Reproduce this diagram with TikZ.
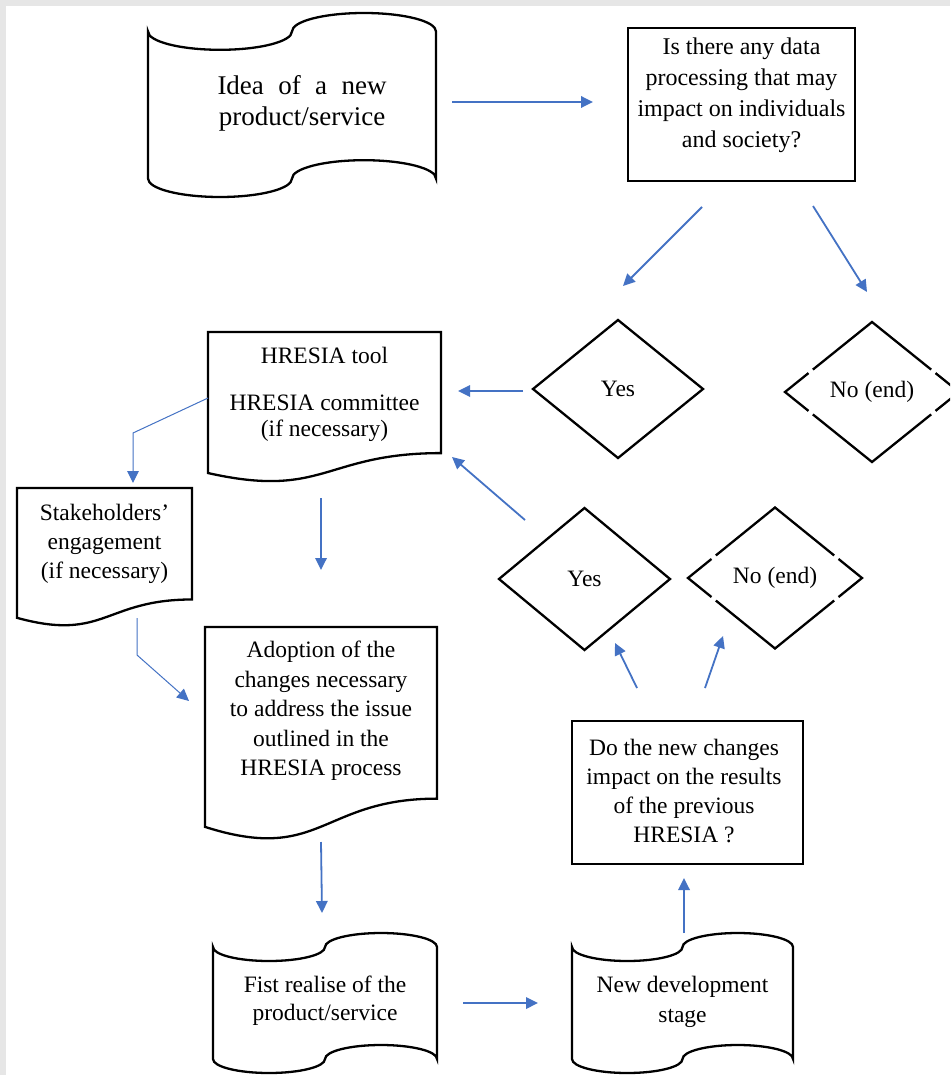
\documentclass[tikz,border=0pt]{standalone}
\usepackage{fontspec}
\setmainfont{Liberation Serif}
\usetikzlibrary{arrows.meta,calc}
\definecolor{arrblue}{RGB}{68,114,196}
\definecolor{bordergray}{RGB}{230,230,230}
\tikzset{
  shapebox/.style={inner sep=0pt, outer sep=0pt, draw=none},
  shapeline/.style={draw=black, line width=2.3pt, line join=miter},
  lbl/.style={inner sep=0pt, align=center},
  flowarrow/.style={draw=arrblue, line width=1.8pt, -{Triangle[length=12pt,width=11.5pt]}},
  thinarrow/.style={draw=arrblue, line width=1pt, -{Triangle[length=12pt,width=11.5pt]}},
}
% punched tape: name, L, T, W, H
\newcommand\tapeshape[5]{%
  \node[shapebox, minimum width=#4, minimum height=#5] (#1) at ({#2+#4/2},{#3+#5/2}) {};
  \draw[shapeline] ({#2},{#3+0.1*#5})
     arc[start angle=180, end angle=0, x radius={#4/4}, y radius={0.1*#5}]
     arc[start angle=180, end angle=360, x radius={#4/4}, y radius={0.1*#5}]
     -- ({#2+#4},{#3+0.9*#5})
     arc[start angle=0, end angle=-180, x radius={#4/4}, y radius={0.1*#5}]
     arc[start angle=0, end angle=180, x radius={#4/4}, y radius={0.1*#5}]
     -- cycle;
}
% document: name, L, T, W, H
\newcommand\docshape[5]{%
  \node[shapebox, minimum width=#4, minimum height=#5] (#1) at ({#2+#4/2},{#3+#5/2}) {};
  \draw[shapeline] ({#2},{#3}) -- ({#2+#4},{#3}) -- ({#2+#4},{#3+0.802*#5})
    .. controls ({#2+0.5*#4},{#3+0.802*#5}) and ({#2+0.5*#4},{#3+1.1075*#5}) .. ({#2},{#3+0.934*#5}) -- cycle;
}
% solid diamond outline
\newcommand\soliddiamond[1]{%
  \draw[shapeline] (#1.north) -- (#1.east) -- (#1.south) -- (#1.west) -- cycle;
}
% dashed diamond outline (gaps near the side tips)
\newcommand\gapdiamond[1]{%
  \draw[shapeline] ($(#1.west)!0.27!(#1.north)$) -- (#1.west) -- ($(#1.west)!0.27!(#1.south)$);
  \draw[shapeline] ($(#1.west)!0.32!(#1.south)$) -- (#1.south) -- ($(#1.east)!0.32!(#1.south)$);
  \draw[shapeline] ($(#1.east)!0.27!(#1.south)$) -- (#1.east) -- ($(#1.east)!0.27!(#1.north)$);
  \draw[shapeline] ($(#1.east)!0.32!(#1.north)$) -- (#1.north) -- ($(#1.west)!0.32!(#1.north)$);
}
\begin{document}
\begin{tikzpicture}[x=1pt,y=-1pt]
\clip (0,0) rectangle (950,1075);
\fill[bordergray] (0,0) rectangle (950,1075);
\fill[white] (6,6) rectangle (950,1075);

% ---- shapes ----
\tapeshape{idea}{148}{13}{288}{184}
\node[lbl, font=\fontsize{27}{30.5}\selectfont] (ideaT) at (302,103.5)
  {\makebox[169pt][s]{Idea of a new}\\product/service};

\node[shapebox, draw=black, line width=2.3pt, minimum width=227, minimum height=153] (q) at (741.5,104.5) {};
\node[lbl, font=\fontsize{24}{31}\selectfont] (qT) at (741.5,95)
  {Is there any data\\processing that may\\impact on individuals\\and society?};

\node[shapebox, minimum width=170, minimum height=138, font=\fontsize{23.5}{28}\selectfont] (yes1) at (618,389) {Yes};
\soliddiamond{yes1}
\node[shapebox, minimum width=174, minimum height=140, font=\fontsize{23.5}{28}\selectfont] (no1) at (872,392) {No (end)};
\gapdiamond{no1}

\docshape{hres}{208}{332}{233}{151}
\node[lbl, font=\fontsize{23.5}{26}\selectfont] (hresT) at (324.5,394)
  {HRESIA tool\\[21pt]HRESIA committee\\(if necessary)};

\docshape{stake}{17}{488}{175}{139}
\node[lbl, font=\fontsize{23.5}{29}\selectfont] (stakeT) at (104.5,544)
  {Stakeholders’\\engagement\\(if necessary)};

\node[shapebox, minimum width=171, minimum height=142, font=\fontsize{23.5}{28}\selectfont] (yes2) at (584.5,579) {Yes};
\soliddiamond{yes2}
\node[shapebox, minimum width=174, minimum height=141, font=\fontsize{23.5}{28}\selectfont] (no2) at (775,578) {No (end)};
\gapdiamond{no2}

\docshape{adopt}{205}{627}{232}{214}
\node[lbl, font=\fontsize{23.5}{29.5}\selectfont] (adoptT) at (321,711)
  {Adoption of the\\changes necessary\\to address the issue\\outlined in the\\HRESIA process};

\node[shapebox, draw=black, line width=2.3pt, minimum width=231, minimum height=143] (dothe) at (687.5,792.5) {};
\node[lbl, font=\fontsize{23.5}{29.3}\selectfont] (dotheT) at (684,791)
  {Do the new changes\\impact on the results\\of the previous\\HRESIA ?};

\tapeshape{fist}{213}{933}{224}{140}
\node[lbl, font=\fontsize{23.5}{28}\selectfont] (fistT) at (325,1001)
  {Fist realise of the\\product/service};

\tapeshape{newdev}{572}{933}{221}{140}
\node[lbl, font=\fontsize{23.5}{30}\selectfont] (newdevT) at (682.5,1002)
  {New development\\stage};

% ---- connectors ----
\coordinate (k1) at (133,433);
\coordinate (k2) at (137,655);
\draw[flowarrow] ([shift={(16,-3)}]idea.east) -- ([shift={(-35,-2.5)}]q.west);
\draw[flowarrow] ([shift={(-39.5,26)}]q.south) -- ([shift={(5,-34)}]yes1.north);
\draw[flowarrow] ([shift={(71.5,25)}]q.south) -- ([shift={(-5,-30)}]no1.north);
\draw[flowarrow] ([shift={(-10,2)}]yes1.west) -- ([shift={(17,-16.5)}]hres.east);
\draw[flowarrow] ([shift={(-59.5,12)}]yes2.north) -- ([shift={(11,-26)}]hres.south east);
\draw[thinarrow] ([shift={(0,-9.5)}]hres.west) -- (k1) -- ([shift={(28.5,-5)}]stake.north);
\draw[flowarrow] ([shift={(-3.5,15)}]hres.south) -- ([shift={(0,-57)}]adopt.north);
\draw[thinarrow] ([shift={(32.5,-9)}]stake.south) -- (k2) -- ([shift={(-16,-33)}]adopt.west);
\draw[flowarrow] ([shift={(0,1)}]adopt.south) -- ([shift={(-3,-20)}]fist.north);
\draw[flowarrow] ([shift={(26,0)}]fist.east) -- ([shift={(-34,0)}]newdev.west);
\draw[flowarrow] ([shift={(1.5,0)}]newdev.north) -- ([shift={(-3.5,14)}]dothe.south);
\draw[flowarrow] ([shift={(-50.5,-33)}]dothe.north) -- ([shift={(30.5,-7)}]yes2.south);
\draw[flowarrow] ([shift={(17.5,-33)}]dothe.north) -- ([shift={(-52,-12.5)}]no2.south);
\end{tikzpicture}
\end{document}
